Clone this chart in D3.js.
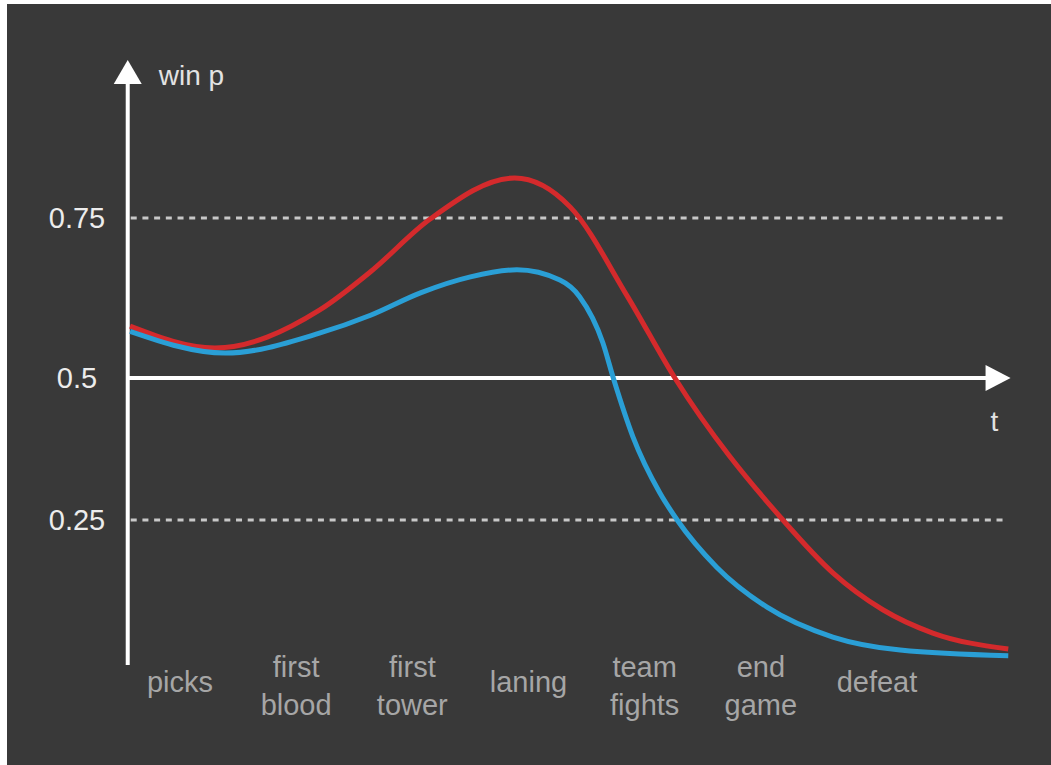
<!DOCTYPE html>
<html>
<head>
<meta charset="utf-8">
<title>win p over time</title>
<script src="https://d3js.org/d3.v7.min.js"></script>
<style>
    html, body { margin: 0; padding: 0; background: #ffffff; }
    svg { display: block; }
    text { font-family: "Liberation Sans", Arial, Helvetica, sans-serif; }
</style>
</head>
<body>
<div id="chart"></div>
<script>
    // stages along the time axis (label lines)
    var stages = [["picks"], ["first", "blood"], ["first", "tower"], ["laning"],
                  ["team", "fights"], ["end", "game"], ["defeat"]];

    // tick values on the win p axis
    var yTicks = [0.25, 0.5, 0.75];
    var yTickLabels = ["0.25", "0.5", "0.75"];
    var gridTicks = [0.25, 0.75];

    // t in stage units (0 = picks, 6 = defeat)
    var redT = [-0.43, 0.30, 1.2, 1.64, 2.15, 2.88, 3.36, 3.85, 4.26, 5.19, 5.62, 6.05, 6.48, 7.13];
    var redP = [0.581, 0.547, 0.606, 0.666, 0.748, 0.8125, 0.767, 0.628, 0.5, 0.25, 0.157, 0.092, 0.051, 0.023];

    var blueT = [-0.43, 0.39, 1.2, 1.64, 2.07, 2.5, 2.9, 3.27, 3.44, 3.64, 3.73, 3.9, 4.13, 4.28, 4.62, 5.05, 5.62, 6.2, 7.13];
    var blueP = [0.573, 0.539, 0.57, 0.598, 0.633, 0.658, 0.669, 0.653, 0.627, 0.555, 0.5, 0.396, 0.298, 0.25, 0.167, 0.097, 0.044, 0.021, 0.011];

    var width = 1051, height = 765;

    var svg = d3.select("#chart").append("svg")
        .attr("width", width)
        .attr("height", height);

    svg.append("rect")
        .attr("x", 7).attr("y", 4)
        .attr("width", width - 7).attr("height", height - 4)
        .attr("fill", "#393939");

    var x = d3.scaleLinear().domain([0, 6]).range([180, 877]);
    // the sketch is not evenly spaced, so the scale is piecewise
    var y = d3.scaleLinear().domain([0, 0.25, 0.5, 0.75, 1]).range([662, 520, 378, 218, 58]);

    var x0 = x(-0.45), x1 = x(7.15);

    // dotted guide lines
    svg.selectAll(".grid")
        .data(gridTicks)
        .enter().append("line")
        .attr("class", "grid")
        .attr("x1", x0 + 3).attr("x2", x1 - 3)
        .attr("y1", function(d) { return y(d); })
        .attr("y2", function(d) { return y(d); })
        .attr("stroke", "#c8c8c8")
        .attr("stroke-width", 3)
        .attr("stroke-dasharray", "6,5.7");

    // axes with arrow heads
    svg.append("line")
        .attr("x1", x0).attr("x2", x0)
        .attr("y1", y(0) + 3).attr("y2", y(1) + 24)
        .attr("stroke", "#ffffff").attr("stroke-width", 4);
    svg.append("path")
        .attr("d", "M" + x0 + "," + (y(1) + 2) + "L" + (x0 + 14) + "," + (y(1) + 26) + "L" + (x0 - 14) + "," + (y(1) + 26) + "Z")
        .attr("fill", "#ffffff");

    svg.append("line")
        .attr("x1", x0).attr("x2", x1 - 24)
        .attr("y1", y(0.5)).attr("y2", y(0.5))
        .attr("stroke", "#ffffff").attr("stroke-width", 4);
    svg.append("path")
        .attr("d", "M" + x1 + "," + y(0.5) + "L" + (x1 - 25) + "," + (y(0.5) - 13) + "L" + (x1 - 25) + "," + (y(0.5) + 13) + "Z")
        .attr("fill", "#ffffff");

    svg.append("text")
        .attr("x", x0 + 31).attr("y", y(1) + 27)
        .attr("fill", "#e2e2e2")
        .attr("font-size", 28)
        .text("win p");

    svg.append("text")
        .attr("x", x1 - 20).attr("y", y(0.5) + 53)
        .attr("fill", "#e2e2e2")
        .attr("font-size", 28)
        .text("t");

    // tick labels
    svg.selectAll(".ytick")
        .data(yTicks)
        .enter().append("text")
        .attr("class", "ytick")
        .attr("x", 77)
        .attr("y", function(d) { return y(d); })
        .attr("dy", "0.35em")
        .attr("text-anchor", "middle")
        .attr("fill", "#ececec")
        .attr("font-size", 29)
        .text(function(d, i) { return yTickLabels[i]; });

    // stage labels
    var lab = svg.selectAll(".stage")
        .data(stages)
        .enter().append("text")
        .attr("class", "stage")
        .attr("text-anchor", "middle")
        .attr("fill", "#a6a6a6")
        .attr("font-size", 29);

    lab.selectAll("tspan")
        .data(function(d, i) { return d.map(function(s, j) { return {s: s, i: i, j: j, n: d.length}; }); })
        .enter().append("tspan")
        .attr("x", function(d) { return x(d.i); })
        .attr("y", function(d) { return d.n == 1 ? 692 : 677 + d.j * 38; })
        .text(function(d) { return d.s; });

    // curves
    var line = d3.line()
        .x(function(d) { return x(d[0]); })
        .y(function(d) { return y(d[1]); })
        .curve(d3.curveMonotoneX);

    svg.append("path")
        .datum(redT.map(function(t, i) { return [t, redP[i]]; }))
        .attr("d", line)
        .attr("fill", "none")
        .attr("stroke", "#d42a2c")
        .attr("stroke-width", 5);

    svg.append("path")
        .datum(blueT.map(function(t, i) { return [t, blueP[i]]; }))
        .attr("d", line)
        .attr("fill", "none")
        .attr("stroke", "#2a9fd6")
        .attr("stroke-width", 5);
</script>
</body>
</html>
